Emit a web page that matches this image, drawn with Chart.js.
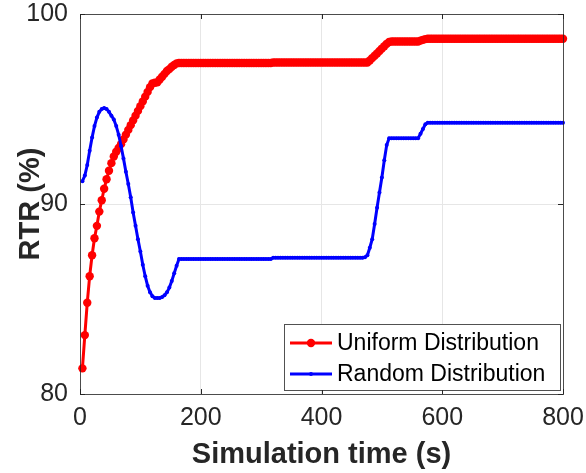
<!DOCTYPE html>
<html>
<head>
<meta charset="utf-8">
<script src="https://cdn.jsdelivr.net/npm/chart.js@4"></script>
<style>
  html, body { margin: 0; padding: 0; background: #fff; }
  #wrap { width: 586px; height: 473px; }
</style>
</head>
<body>
<div id="wrap"><canvas id="rtr" width="586" height="473"></canvas></div>
<script>
// sample times (s)
const time = [
  4,8,12,16,20,24,28,32,36,40,44,48,52,56,60,64,68,72,76,80,
  84,88,92,96,100,104,108,112,116,120,124,128,132,136,140,144,148,152,156,160,
  164,168,172,176,180,184,188,192,196,200,204,208,212,216,220,224,228,232,236,240,
  244,248,252,256,260,264,268,272,276,280,284,288,292,296,300,304,308,312,316,320,
  324,328,332,336,340,344,348,352,356,360,364,368,372,376,380,384,388,392,396,400,
  404,408,412,416,420,424,428,432,436,440,444,448,452,456,460,464,468,472,476,480,
  484,488,492,496,500,504,508,512,516,520,524,528,532,536,540,544,548,552,556,560,
  564,568,572,576,580,584,588,592,596,600,604,608,612,616,620,624,628,632,636,640,
  644,648,652,656,660,664,668,672,676,680,684,688,692,696,700,704,708,712,716,720,
  724,728,732,736,740,744,748,752,756,760,764,768,772,776,780,784,788,792,796,800
];

// RTR (%) - uniform distribution
const uniform = [
  81.35,83.1,84.8,86.2,87.3,88.2,88.85,89.6,90.2,90.8,91.3,91.75,92.15,92.5,92.75,92.95,93.15,93.4,93.65,93.9,
  94.15,94.4,94.65,94.9,95.15,95.4,95.65,95.9,96.15,96.35,96.38,96.4,96.55,96.7,96.85,97.0,97.1,97.22,97.32,97.4,
  97.42,97.42,97.42,97.42,97.42,97.42,97.42,97.42,97.42,97.42,97.42,97.42,97.42,97.42,97.42,97.42,97.42,97.42,97.42,97.42,
  97.42,97.42,97.42,97.42,97.42,97.42,97.42,97.42,97.42,97.42,97.42,97.42,97.42,97.42,97.42,97.42,97.42,97.42,97.42,97.45,
  97.45,97.45,97.45,97.45,97.45,97.45,97.45,97.45,97.45,97.45,97.45,97.45,97.45,97.45,97.45,97.45,97.45,97.45,97.45,97.45,
  97.45,97.45,97.45,97.45,97.45,97.45,97.45,97.45,97.45,97.45,97.45,97.45,97.45,97.45,97.45,97.45,97.45,97.45,97.45,97.55,
  97.68,97.8,97.92,98.05,98.18,98.3,98.43,98.53,98.55,98.55,98.55,98.55,98.55,98.55,98.55,98.55,98.55,98.55,98.55,98.55,
  98.6,98.64,98.68,98.7,98.7,98.7,98.7,98.7,98.7,98.7,98.7,98.7,98.7,98.7,98.7,98.7,98.7,98.7,98.7,98.7,
  98.7,98.7,98.7,98.7,98.7,98.7,98.7,98.7,98.7,98.7,98.7,98.7,98.7,98.7,98.7,98.7,98.7,98.7,98.7,98.7,
  98.7,98.7,98.7,98.7,98.7,98.7,98.7,98.7,98.7,98.7,98.7,98.7,98.7,98.7,98.7,98.7,98.7,98.7,98.7,98.7
];

// RTR (%) - random distribution
const random = [
  91.2,91.5,92.05,92.8,93.5,94.1,94.55,94.85,95.0,95.05,95.0,94.85,94.65,94.45,94.1,93.65,93.05,92.4,91.7,91.05,
  90.35,89.55,88.85,88.15,87.5,86.8,86.2,85.7,85.35,85.15,85.05,85.05,85.05,85.1,85.2,85.35,85.6,85.95,86.35,86.75,
  87.1,87.1,87.1,87.1,87.1,87.1,87.1,87.1,87.1,87.1,87.1,87.1,87.1,87.1,87.1,87.1,87.1,87.1,87.1,87.1,
  87.1,87.1,87.1,87.1,87.1,87.1,87.1,87.1,87.1,87.1,87.1,87.1,87.1,87.1,87.1,87.1,87.1,87.1,87.1,87.17,
  87.17,87.17,87.17,87.17,87.17,87.17,87.17,87.17,87.17,87.17,87.17,87.17,87.17,87.17,87.17,87.17,87.17,87.17,87.17,87.17,
  87.17,87.17,87.17,87.17,87.17,87.17,87.17,87.17,87.17,87.17,87.17,87.17,87.17,87.17,87.17,87.17,87.17,87.2,87.3,87.7,
  88.15,88.95,89.8,90.6,91.4,92.3,93.1,93.46,93.46,93.46,93.46,93.46,93.46,93.46,93.46,93.46,93.46,93.46,93.46,93.46,
  93.7,93.95,94.2,94.28,94.28,94.28,94.28,94.28,94.28,94.28,94.28,94.28,94.28,94.28,94.28,94.28,94.28,94.28,94.28,94.28,
  94.28,94.28,94.28,94.28,94.28,94.28,94.28,94.28,94.28,94.28,94.28,94.28,94.28,94.28,94.28,94.28,94.28,94.28,94.28,94.28,
  94.28,94.28,94.28,94.28,94.28,94.28,94.28,94.28,94.28,94.28,94.28,94.28,94.28,94.28,94.28,94.28,94.28,94.28,94.28,94.28
];

const xTicks = [0, 200, 400, 600, 800];
const yTicks = [80, 90, 100];

const ink = '#262626';
const fam = '"Liberation Sans", Arial, Helvetica, sans-serif';

function toPoints(vals) {
  return time.map((t, i) => ({ x: t, y: vals[i] }));
}

// matlab-ish box, inward ticks and the legend inside the axes
const frame = {
  id: 'frame',
  afterDatasetsDraw(chart) {
    const { ctx, chartArea: a, scales } = chart;
    ctx.save();
    ctx.strokeStyle = ink;
    ctx.lineWidth = 1;
    ctx.beginPath();
    xTicks.forEach(v => {
      const px = Math.round(scales.x.getPixelForValue(v)) + 0.5;
      ctx.moveTo(px, a.bottom); ctx.lineTo(px, a.bottom - 5);
      ctx.moveTo(px, a.top); ctx.lineTo(px, a.top + 5);
    });
    yTicks.forEach(v => {
      const py = Math.round(scales.y.getPixelForValue(v)) + 0.5;
      ctx.moveTo(a.left, py); ctx.lineTo(a.left + 5, py);
      ctx.moveTo(a.right, py); ctx.lineTo(a.right - 5, py);
    });
    ctx.stroke();
    ctx.strokeStyle = 'rgba(38,38,38,0.8)';
    ctx.strokeRect(Math.round(a.left) + 0.5, Math.round(a.top) + 0.5,
      Math.round(a.right - a.left), Math.round(a.bottom - a.top));
    ctx.restore();
  },
  afterDraw(chart) {
    const { ctx, chartArea: a } = chart;
    const bx = 284, by = 324, bw = a.right - 3 - 284, bh = 66;
    ctx.save();
    ctx.fillStyle = '#fff';
    ctx.fillRect(bx, by, bw, bh);
    ctx.strokeStyle = 'rgba(38,38,38,0.8)';
    ctx.lineWidth = 1;
    ctx.strokeRect(bx + 0.5, by + 0.5, bw, bh);
    ctx.font = '23px ' + fam;
    ctx.textBaseline = 'middle';
    chart.data.datasets.forEach((ds, i) => {
      const cy = by + 19 + i * 31;
      ctx.strokeStyle = ds.borderColor;
      ctx.lineWidth = ds.borderWidth;
      ctx.beginPath();
      ctx.moveTo(bx + 6, cy); ctx.lineTo(bx + 48, cy);
      ctx.stroke();
      ctx.fillStyle = ds.backgroundColor;
      ctx.beginPath();
      ctx.arc(bx + 27, cy, ds.pointRadius, 0, Math.PI * 2);
      ctx.fill();
      ctx.fillStyle = '#000';
      ctx.fillText(ds.label, bx + 53, cy + 1);
    });
    ctx.restore();
  }
};

const ctx = document.getElementById('rtr').getContext('2d');
const rtrChart = new Chart(ctx, {
  type: 'line',
  data: {
    datasets: [
      {
        label: 'Uniform Distribution',
        data: toPoints(uniform),
        borderColor: '#ff0000',
        backgroundColor: '#ff0000',
        borderWidth: 3,
        pointRadius: 4.2,
        pointBorderWidth: 0,
        tension: 0,
        order: 2,
        clip: 10
      },
      {
        label: 'Random Distribution',
        data: toPoints(random),
        borderColor: '#0000ff',
        backgroundColor: '#0000ff',
        borderWidth: 3,
        pointRadius: 2,
        pointBorderWidth: 0,
        tension: 0,
        order: 1,
        clip: 10
      }
    ]
  },
  options: {
    responsive: false,
    animation: false,
    devicePixelRatio: 1,
    layout: { padding: { top: 14, right: 23, left: 0, bottom: 0 } },
    plugins: { legend: { display: false }, tooltip: { enabled: false } },
    scales: {
      x: {
        type: 'linear',
        min: 0,
        max: 800,
        afterBuildTicks(s) { s.ticks = xTicks.map(v => ({ value: v })); },
        afterFit(s) { s.height = 79; s.paddingLeft = 0; s.paddingRight = 0; },
        ticks: { color: ink, font: { family: fam, size: 25 }, padding: 9, maxRotation: 0 },
        grid: { color: '#e6e6e6', lineWidth: 1, drawTicks: false },
        border: { display: false },
        title: {
          display: true,
          text: 'Simulation time (s)',
          color: ink,
          font: { family: fam, size: 29, weight: 'bold' },
          padding: { top: 0, bottom: 1 }
        }
      },
      y: {
        min: 80,
        max: 100,
        afterBuildTicks(s) { s.ticks = yTicks.map(v => ({ value: v })); },
        afterFit(s) { s.width = 80; s.paddingTop = 0; s.paddingBottom = 0; },
        ticks: { color: ink, font: { family: fam, size: 25 }, padding: 12 },
        grid: { color: '#e6e6e6', lineWidth: 1, drawTicks: false },
        border: { display: false },
        title: {
          display: true,
          text: 'RTR (%)',
          color: ink,
          font: { family: fam, size: 29, weight: 'bold' },
          padding: { top: 14, bottom: 0 }
        }
      }
    }
  },
  plugins: [frame]
});
</script>
</body>
</html>
